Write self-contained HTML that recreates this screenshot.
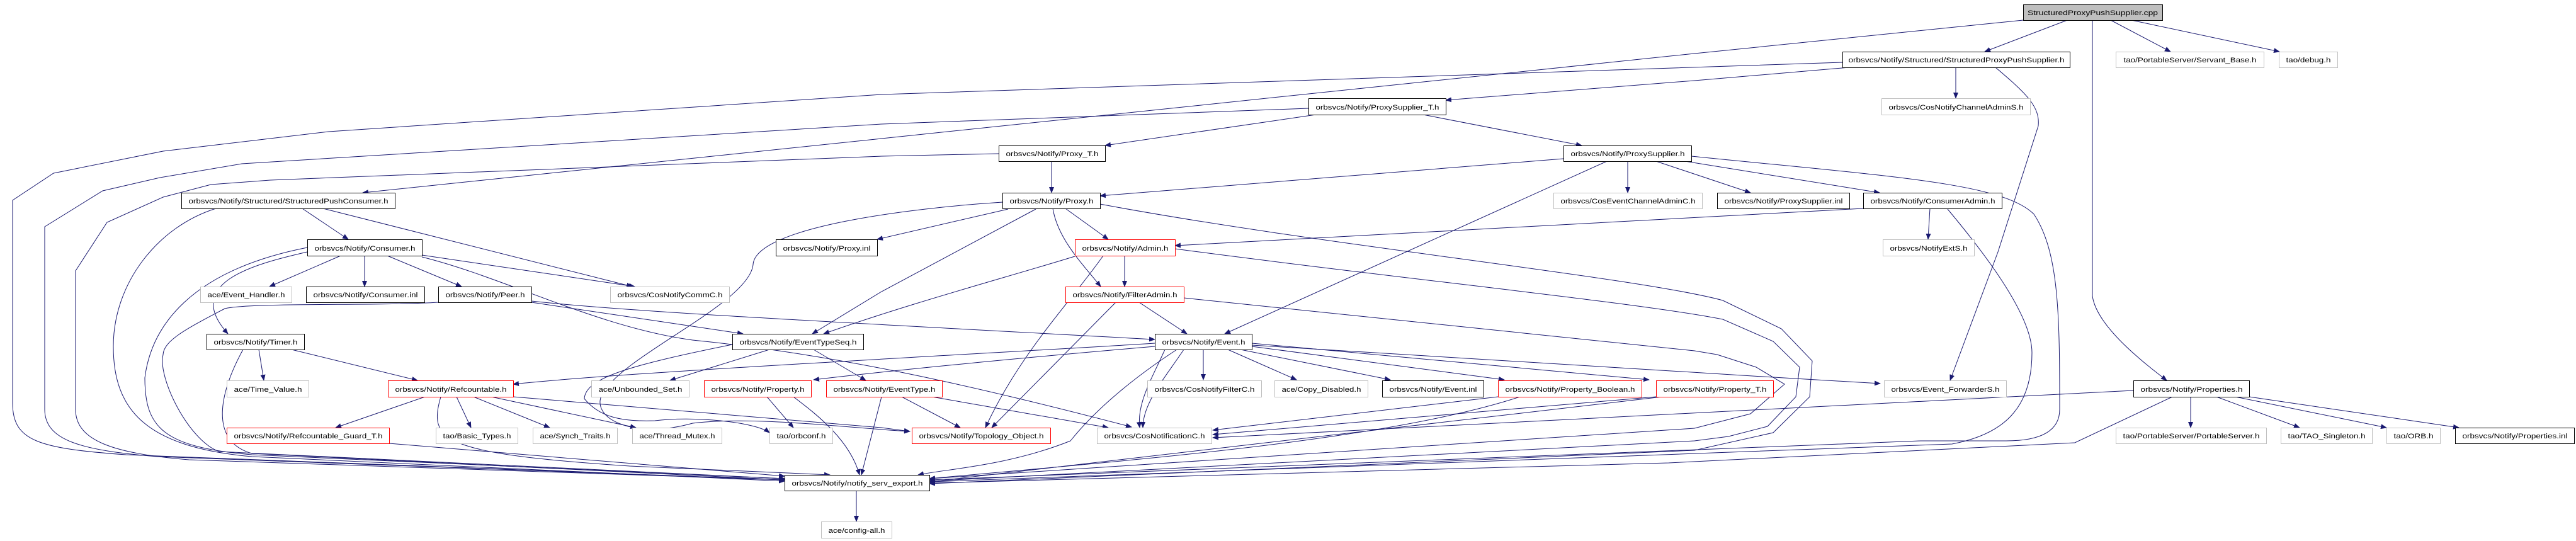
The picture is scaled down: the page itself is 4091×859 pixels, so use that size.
<!DOCTYPE html>
<html><head><meta charset="utf-8"><style>
html,body{margin:0;padding:0;background:#fff}
svg{display:block}
text{font-family:"Liberation Sans",sans-serif;font-size:11px;fill:#000}
.e{fill:none;stroke:#191970;stroke-width:1}
</style></head><body>
<svg width="4091" height="859" viewBox="0 0 4091 859" xmlns="http://www.w3.org/2000/svg">
<defs><marker id="a" markerUnits="userSpaceOnUse" markerWidth="10" markerHeight="8" refX="9" refY="4" orient="auto"><path d="M0,0 L10,4 L0,8 z" fill="#191970"/></marker></defs>
<g class="e" marker-end="url(#a)">
<path d="M3283,32 L3152,82"/>
<path d="M3352,32 L3447,82"/>
<path d="M3385,32 L3620,82"/>
<path d="M3323,32 L3323,470 C3330,520 3410,580 3441,604"/>
<path d="M3213,32 L2691,85 L1400,220 L576,306"/>
<path d="M2926,99 L1400,150 L522,209 L259,240 L85,275 L20,318 L20,640 C20,700 60,712 200,722 L1246,762"/>
<path d="M2937,107 L2691,128 L2296,159"/>
<path d="M3106,107 L3106,156"/>
<path d="M3169,107 C3220,150 3240,170 3237,200 L3173,400 L3097,604"/>
<path d="M2078,172 L1400,197 L384,260 L254,282 L163,303 L71,360 L71,650 C71,700 130,715 250,725 L1246,762"/>
<path d="M2090,182 L1755,231"/>
<path d="M2260,182 L2512,231"/>
<path d="M1586,244 L1400,248 L429,286 L335,293 L259,313 L170,353 L120,430 L120,650 C120,700 180,720 300,730 L1246,762"/>
<path d="M1670,256 L1670,306"/>
<path d="M2483,252 L1747,311"/>
<path d="M2585,256 L2585,306"/>
<path d="M2630,256 L2780,306"/>
<path d="M2676,256 L2985,306"/>
<path d="M2552,256 L1945,530"/>
<path d="M2686,248 C3000,280 3180,290 3230,340 C3270,400 3271,500 3271,650 C3271,690 3230,700 3186,700 L3050,700 C2800,710 2500,720 1476,762"/>
<path d="M2959,331 L1866,390"/>
<path d="M3065,331 L3062,380"/>
<path d="M3093,332 C3150,400 3227,500 3227,560 C3227,650 3180,690 3100,705 L1476,765"/>
<path d="M480,331 L553,380"/>
<path d="M343,331 C250,360 180,450 180,550 C180,650 230,710 400,725 L1246,764"/>
<path d="M513,331 L1004,455"/>
<path d="M1601,332 L1393,380"/>
<path d="M1692,331 L1760,380"/>
<path d="M1672,331 C1680,380 1720,420 1748,455"/>
<path d="M1645,332 L1400,463 L1290,530"/>
<path d="M1592,321 C1450,330 1200,360 1196,420 C1190,480 1000,560 960,620 C930,660 1000,700 1100,672 C1200,660 1350,680 1445,685"/>
<path d="M1707,407 C1600,440 1450,480 1308,530"/>
<path d="M1786,406 L1786,455"/>
<path d="M1752,406 C1700,480 1620,560 1565,679"/>
<path d="M1747,324 C2100,390 2600,440 2736,477 L2829,522 L2878,573 L2874,630 L2816,687 L2691,715 L1476,768"/>
<path d="M1866,395 C2200,440 2600,480 2736,507 L2816,542 L2858,583 L2852,630 L2807,677 L2745,693 L2691,700 L1476,764"/>
<path d="M1880,473 L2691,557 L2727,563 L2789,583 L2834,610 L2780,657 L2691,680 L1476,760"/>
<path d="M1809,480 L1885,530"/>
<path d="M844,478 C1000,495 1300,510 1834,539"/>
<path d="M844,480 L1180,530"/>
<path d="M696,480 C600,486 400,480 357,490 C300,520 260,540 259,563 C250,600 300,700 348,717 L1246,760"/>
<path d="M541,406 L428,455"/>
<path d="M579,406 L579,455"/>
<path d="M615,406 L733,455"/>
<path d="M670,405 L1008,455"/>
<path d="M488,400 C400,420 290,450 362,530"/>
<path d="M488,393 C300,430 240,520 230,600 C230,680 260,710 400,722 L1246,760"/>
<path d="M670,408 C800,440 950,520 1100,540 C1300,560 1500,600 1797,678"/>
<path d="M411,555 L419,604"/>
<path d="M463,555 L663,604"/>
<path d="M386,555 C350,620 330,700 400,720 L1246,762"/>
<path d="M1222,555 L1064,604"/>
<path d="M1292,555 L1375,604"/>
<path d="M1163,547 C1000,580 930,600 928,633 C950,660 982,670 1040,668 C1100,660 1200,670 1222,687"/>
<path d="M1834,545 C1600,560 1000,590 815,610"/>
<path d="M1834,550 C1600,570 1400,590 1292,603"/>
<path d="M1869,555 C1800,600 1740,650 1700,700 C1600,740 1500,745 1458,754"/>
<path d="M1911,555 L1911,603"/>
<path d="M1950,555 L2059,603"/>
<path d="M1970,555 L2208,603"/>
<path d="M1988,550 L2389,603"/>
<path d="M1988,545 L2619,603"/>
<path d="M1988,548 L2800,598 L2986,609"/>
<path d="M1850,555 C1830,600 1805,640 1810,679"/>
<path d="M1880,555 C1850,600 1815,640 1815,679"/>
<path d="M675,630 L533,679"/>
<path d="M725,630 L748,679"/>
<path d="M752,630 L873,679"/>
<path d="M780,630 L1010,679"/>
<path d="M815,630 L1400,679 L1445,685"/>
<path d="M700,630 C680,700 700,720 1000,740 L1318,754"/>
<path d="M618,704 L1246,756"/>
<path d="M1218,630 L1260,679"/>
<path d="M1260,630 C1300,660 1350,700 1365,754"/>
<path d="M1432,630 L1525,679"/>
<path d="M1480,630 L1760,679"/>
<path d="M1400,630 L1368,754"/>
<path d="M1772,480 L1575,679"/>
<path d="M2379,630 L1926,683"/>
<path d="M2414,630 C2200,700 1800,730 1476,760"/>
<path d="M2630,630 L1926,690"/>
<path d="M2640,630 L1476,765"/>
<path d="M3388,620 L1926,695"/>
<path d="M3450,630 L3295,703 L2650,735 L1476,767"/>
<path d="M3479,630 L3479,679"/>
<path d="M3520,630 L3652,679"/>
<path d="M3550,630 L3790,679"/>
<path d="M3572,630 L3905,679"/>
<path d="M1360,779 L1360,828"/>
</g>
<g id="nodes"></g>
<g stroke-width="1">
<rect x="3213.5" y="7.5" width="221" height="25" fill="#bfbfbf" stroke="#000"/><text x="3323.5" y="24" text-anchor="middle" textLength="207" lengthAdjust="spacingAndGlyphs">StructuredProxyPushSupplier.cpp</text>
<rect x="2926.5" y="82.5" width="361" height="25" fill="#fff" stroke="#000"/><text x="3107" y="99" text-anchor="middle" textLength="343" lengthAdjust="spacingAndGlyphs">orbsvcs/Notify/Structured/StructuredProxyPushSupplier.h</text>
<rect x="3360.5" y="82.5" width="235" height="25" fill="#fff" stroke="#bfbfbf"/><text x="3478" y="99" text-anchor="middle" textLength="211" lengthAdjust="spacingAndGlyphs">tao/PortableServer/Servant_Base.h</text>
<rect x="3619.5" y="82.5" width="93" height="25" fill="#fff" stroke="#bfbfbf"/><text x="3666" y="99" text-anchor="middle" textLength="71" lengthAdjust="spacingAndGlyphs">tao/debug.h</text>
<rect x="2078.5" y="156.5" width="218" height="26" fill="#fff" stroke="#000"/><text x="2187.5" y="174" text-anchor="middle" textLength="196" lengthAdjust="spacingAndGlyphs">orbsvcs/Notify/ProxySupplier_T.h</text>
<rect x="2988.5" y="156.5" width="236" height="26" fill="#fff" stroke="#bfbfbf"/><text x="3106.5" y="174" text-anchor="middle" textLength="214" lengthAdjust="spacingAndGlyphs">orbsvcs/CosNotifyChannelAdminS.h</text>
<rect x="1586.5" y="231.5" width="169" height="25" fill="#fff" stroke="#000"/><text x="1671" y="248" text-anchor="middle" textLength="147" lengthAdjust="spacingAndGlyphs">orbsvcs/Notify/Proxy_T.h</text>
<rect x="2483.5" y="231.5" width="203" height="25" fill="#fff" stroke="#000"/><text x="2585" y="248" text-anchor="middle" textLength="181" lengthAdjust="spacingAndGlyphs">orbsvcs/Notify/ProxySupplier.h</text>
<rect x="288.5" y="306.5" width="339" height="25" fill="#fff" stroke="#000"/><text x="458" y="323" text-anchor="middle" textLength="317" lengthAdjust="spacingAndGlyphs">orbsvcs/Notify/Structured/StructuredPushConsumer.h</text>
<rect x="1592.5" y="306.5" width="155" height="25" fill="#fff" stroke="#000"/><text x="1670" y="323" text-anchor="middle" textLength="133" lengthAdjust="spacingAndGlyphs">orbsvcs/Notify/Proxy.h</text>
<rect x="2467.5" y="306.5" width="236" height="25" fill="#fff" stroke="#bfbfbf"/><text x="2585.5" y="323" text-anchor="middle" textLength="214" lengthAdjust="spacingAndGlyphs">orbsvcs/CosEventChannelAdminC.h</text>
<rect x="2727.5" y="306.5" width="210" height="25" fill="#fff" stroke="#000"/><text x="2832.5" y="323" text-anchor="middle" textLength="188" lengthAdjust="spacingAndGlyphs">orbsvcs/Notify/ProxySupplier.inl</text>
<rect x="2959.5" y="306.5" width="220" height="25" fill="#fff" stroke="#000"/><text x="3069.5" y="323" text-anchor="middle" textLength="198" lengthAdjust="spacingAndGlyphs">orbsvcs/Notify/ConsumerAdmin.h</text>
<rect x="488.5" y="380.5" width="182" height="26" fill="#fff" stroke="#000"/><text x="579.5" y="398" text-anchor="middle" textLength="160" lengthAdjust="spacingAndGlyphs">orbsvcs/Notify/Consumer.h</text>
<rect x="1232.5" y="380.5" width="161" height="26" fill="#fff" stroke="#000"/><text x="1313" y="398" text-anchor="middle" textLength="139" lengthAdjust="spacingAndGlyphs">orbsvcs/Notify/Proxy.inl</text>
<rect x="1707.5" y="380.5" width="159" height="26" fill="#fff" stroke="#f00"/><text x="1787" y="398" text-anchor="middle" textLength="137" lengthAdjust="spacingAndGlyphs">orbsvcs/Notify/Admin.h</text>
<rect x="2990.5" y="380.5" width="145" height="26" fill="#fff" stroke="#bfbfbf"/><text x="3063" y="398" text-anchor="middle" textLength="123" lengthAdjust="spacingAndGlyphs">orbsvcs/NotifyExtS.h</text>
<rect x="318.5" y="455.5" width="145" height="25" fill="#fff" stroke="#bfbfbf"/><text x="391" y="472" text-anchor="middle" textLength="123" lengthAdjust="spacingAndGlyphs">ace/Event_Handler.h</text>
<rect x="486.5" y="455.5" width="188" height="25" fill="#fff" stroke="#000"/><text x="580.5" y="472" text-anchor="middle" textLength="166" lengthAdjust="spacingAndGlyphs">orbsvcs/Notify/Consumer.inl</text>
<rect x="696.5" y="455.5" width="148" height="25" fill="#fff" stroke="#000"/><text x="770.5" y="472" text-anchor="middle" textLength="126" lengthAdjust="spacingAndGlyphs">orbsvcs/Notify/Peer.h</text>
<rect x="969.5" y="455.5" width="189" height="25" fill="#fff" stroke="#bfbfbf"/><text x="1064" y="472" text-anchor="middle" textLength="167" lengthAdjust="spacingAndGlyphs">orbsvcs/CosNotifyCommC.h</text>
<rect x="1692.5" y="455.5" width="188" height="25" fill="#fff" stroke="#f00"/><text x="1786.5" y="472" text-anchor="middle" textLength="166" lengthAdjust="spacingAndGlyphs">orbsvcs/Notify/FilterAdmin.h</text>
<rect x="328.5" y="530.5" width="155" height="25" fill="#fff" stroke="#000"/><text x="406" y="547" text-anchor="middle" textLength="133" lengthAdjust="spacingAndGlyphs">orbsvcs/Notify/Timer.h</text>
<rect x="1163.5" y="530.5" width="208" height="25" fill="#fff" stroke="#000"/><text x="1267.5" y="547" text-anchor="middle" textLength="186" lengthAdjust="spacingAndGlyphs">orbsvcs/Notify/EventTypeSeq.h</text>
<rect x="1834.5" y="530.5" width="154" height="25" fill="#fff" stroke="#000"/><text x="1911.5" y="547" text-anchor="middle" textLength="132" lengthAdjust="spacingAndGlyphs">orbsvcs/Notify/Event.h</text>
<rect x="360.5" y="604.5" width="130" height="26" fill="#fff" stroke="#bfbfbf"/><text x="425.5" y="622" text-anchor="middle" textLength="108" lengthAdjust="spacingAndGlyphs">ace/Time_Value.h</text>
<rect x="616.5" y="604.5" width="199" height="26" fill="#fff" stroke="#f00"/><text x="716" y="622" text-anchor="middle" textLength="177" lengthAdjust="spacingAndGlyphs">orbsvcs/Notify/Refcountable.h</text>
<rect x="939.5" y="604.5" width="155" height="26" fill="#fff" stroke="#bfbfbf"/><text x="1017" y="622" text-anchor="middle" textLength="133" lengthAdjust="spacingAndGlyphs">ace/Unbounded_Set.h</text>
<rect x="1118.5" y="604.5" width="170" height="26" fill="#fff" stroke="#f00"/><text x="1203.5" y="622" text-anchor="middle" textLength="148" lengthAdjust="spacingAndGlyphs">orbsvcs/Notify/Property.h</text>
<rect x="1312.5" y="604.5" width="184" height="26" fill="#fff" stroke="#f00"/><text x="1404.5" y="622" text-anchor="middle" textLength="162" lengthAdjust="spacingAndGlyphs">orbsvcs/Notify/EventType.h</text>
<rect x="1822.5" y="604.5" width="181" height="26" fill="#fff" stroke="#bfbfbf"/><text x="1913" y="622" text-anchor="middle" textLength="159" lengthAdjust="spacingAndGlyphs">orbsvcs/CosNotifyFilterC.h</text>
<rect x="2024.5" y="604.5" width="148" height="26" fill="#fff" stroke="#bfbfbf"/><text x="2098.5" y="622" text-anchor="middle" textLength="126" lengthAdjust="spacingAndGlyphs">ace/Copy_Disabled.h</text>
<rect x="2195.5" y="604.5" width="161" height="26" fill="#fff" stroke="#000"/><text x="2276" y="622" text-anchor="middle" textLength="139" lengthAdjust="spacingAndGlyphs">orbsvcs/Notify/Event.inl</text>
<rect x="2379.5" y="604.5" width="228" height="26" fill="#fff" stroke="#f00"/><text x="2493.5" y="622" text-anchor="middle" textLength="206" lengthAdjust="spacingAndGlyphs">orbsvcs/Notify/Property_Boolean.h</text>
<rect x="2630.5" y="604.5" width="186" height="26" fill="#fff" stroke="#f00"/><text x="2723.5" y="622" text-anchor="middle" textLength="164" lengthAdjust="spacingAndGlyphs">orbsvcs/Notify/Property_T.h</text>
<rect x="2992.5" y="604.5" width="194" height="26" fill="#fff" stroke="#bfbfbf"/><text x="3089.5" y="622" text-anchor="middle" textLength="172" lengthAdjust="spacingAndGlyphs">orbsvcs/Event_ForwarderS.h</text>
<rect x="3388.5" y="604.5" width="184" height="26" fill="#fff" stroke="#000"/><text x="3480.5" y="622" text-anchor="middle" textLength="162" lengthAdjust="spacingAndGlyphs">orbsvcs/Notify/Properties.h</text>
<rect x="360.5" y="679.5" width="258" height="25" fill="#fff" stroke="#f00"/><text x="489.5" y="696" text-anchor="middle" textLength="236" lengthAdjust="spacingAndGlyphs">orbsvcs/Notify/Refcountable_Guard_T.h</text>
<rect x="692.5" y="679.5" width="130" height="25" fill="#fff" stroke="#bfbfbf"/><text x="757.5" y="696" text-anchor="middle" textLength="108" lengthAdjust="spacingAndGlyphs">tao/Basic_Types.h</text>
<rect x="846.5" y="679.5" width="134" height="25" fill="#fff" stroke="#bfbfbf"/><text x="913.5" y="696" text-anchor="middle" textLength="112" lengthAdjust="spacingAndGlyphs">ace/Synch_Traits.h</text>
<rect x="1004.5" y="679.5" width="142" height="25" fill="#fff" stroke="#bfbfbf"/><text x="1075.5" y="696" text-anchor="middle" textLength="120" lengthAdjust="spacingAndGlyphs">ace/Thread_Mutex.h</text>
<rect x="1222.5" y="679.5" width="100" height="25" fill="#fff" stroke="#bfbfbf"/><text x="1272.5" y="696" text-anchor="middle" textLength="78" lengthAdjust="spacingAndGlyphs">tao/orbconf.h</text>
<rect x="1448.5" y="679.5" width="220" height="25" fill="#fff" stroke="#f00"/><text x="1558.5" y="696" text-anchor="middle" textLength="198" lengthAdjust="spacingAndGlyphs">orbsvcs/Notify/Topology_Object.h</text>
<rect x="1742.5" y="679.5" width="182" height="25" fill="#fff" stroke="#bfbfbf"/><text x="1833.5" y="696" text-anchor="middle" textLength="160" lengthAdjust="spacingAndGlyphs">orbsvcs/CosNotificationC.h</text>
<rect x="3360.5" y="679.5" width="239" height="25" fill="#fff" stroke="#bfbfbf"/><text x="3480" y="696" text-anchor="middle" textLength="217" lengthAdjust="spacingAndGlyphs">tao/PortableServer/PortableServer.h</text>
<rect x="3622.5" y="679.5" width="145" height="25" fill="#fff" stroke="#bfbfbf"/><text x="3695" y="696" text-anchor="middle" textLength="123" lengthAdjust="spacingAndGlyphs">tao/TAO_Singleton.h</text>
<rect x="3790.5" y="679.5" width="85" height="25" fill="#fff" stroke="#bfbfbf"/><text x="3833" y="696" text-anchor="middle" textLength="63" lengthAdjust="spacingAndGlyphs">tao/ORB.h</text>
<rect x="3899.5" y="679.5" width="189" height="25" fill="#fff" stroke="#000"/><text x="3994" y="696" text-anchor="middle" textLength="167" lengthAdjust="spacingAndGlyphs">orbsvcs/Notify/Properties.inl</text>
<rect x="1246.5" y="754.5" width="230" height="25" fill="#fff" stroke="#000"/><text x="1361.5" y="771" text-anchor="middle" textLength="208" lengthAdjust="spacingAndGlyphs">orbsvcs/Notify/notify_serv_export.h</text>
<rect x="1304.5" y="828.5" width="112" height="26" fill="#fff" stroke="#bfbfbf"/><text x="1360.5" y="846" text-anchor="middle" textLength="90" lengthAdjust="spacingAndGlyphs">ace/config-all.h</text>
</g>
</svg>
</body></html>
